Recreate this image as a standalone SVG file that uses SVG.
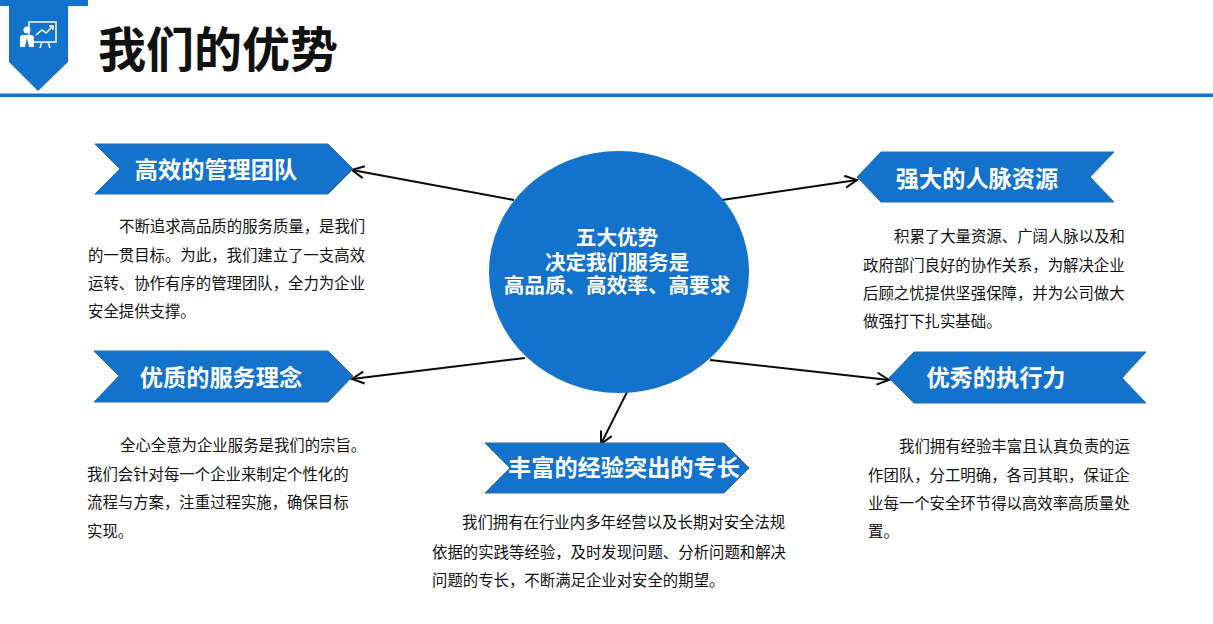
<svg xmlns="http://www.w3.org/2000/svg" width="1213" height="624" viewBox="0 0 1213 624">
<style>
text{font-family:"Noto Sans CJK SC",sans-serif}
.b{fill:#1272cc;stroke:#2a6aa8;stroke-width:1}
.h{fill:#fff;font-size:23.2px;font-weight:700;text-anchor:middle}
.c{fill:#fff;font-size:20.6px;font-weight:700;text-anchor:middle}
.p{fill:#111;font-size:15.4px}
.l{fill:none;stroke:#0a0a0a;stroke-width:2;marker-end:url(#a)}
</style>
<defs><marker id="a" markerUnits="userSpaceOnUse" markerWidth="16" markerHeight="16" refX="13" refY="7" orient="auto"><path d="M1 1L13 7L1 13" fill="none" stroke="#0a0a0a" stroke-width="2"/></marker></defs>
<rect width="1213" height="624" fill="#fff"/>
<g id="header">
<rect x="0" y="0" width="88" height="6" fill="#1272cc"/>
<path d="M9 6H68V62L38 91L9 62Z" fill="#1272cc"/>
<g fill="none" stroke="#fff" stroke-width="1.5"><rect x="29" y="22" width="27" height="20"/><path d="M36 35l6-5 4 3 7-7M49 26h4v4" /><path d="M42 42l-2 6M48 42l2 6"/></g>
<g fill="#fff"><circle cx="27" cy="30" r="3.5"/><path d="M20 47V38q0-3 3-3h8q3 0 3 3v9h-5l-2-9-2 9Z"/></g>
<text x="98" y="67" font-size="48" font-weight="700" fill="#111">我们的优势</text>
<rect x="0" y="93.5" width="1213" height="3.5" fill="#1272cc"/>
</g>
<g id="connectors">
<path class="l" d="M514 200L352 170"/>
<path class="l" d="M722 200L857 180"/>
<path class="l" d="M525 358L352 379"/>
<path class="l" d="M710 360L889 380"/>
<path class="l" d="M627 392L601 444"/>
</g>
<g id="center"><ellipse cx="619" cy="272" rx="130" ry="121" fill="#1272cc"/>
<text class="c"><tspan x="617" y="245">五大优势</tspan><tspan x="617" y="270">决定我们服务是</tspan><tspan x="617" y="293">高品质、高效率、高要求</tspan></text></g>
<g id="n1"><path class="b" d="M95 144H328L353 169L328 194H95L120 169Z"/><text class="h" x="216" y="178">高效的管理团队</text>
<text class="p" x="119" y="232">不断追求高品质的服务质量，是我们</text><text class="p" x="88" y="261">的一贯目标。为此，我们建立了一支高效</text><text class="p" x="88" y="289">运转、协作有序的管理团队，全力为企业</text><text class="p" x="88" y="317">安全提供支撑。</text></g>
<g id="n2"><path class="b" d="M881 152H1114L1090 177L1114 202H881L857 177Z"/><text class="h" x="977" y="187">强大的人脉资源</text>
<text class="p" x="894" y="242">积累了大量资源、广阔人脉以及和</text><text class="p" x="863" y="271">政府部门良好的协作关系，为解决企业</text><text class="p" x="863" y="299">后顾之忧提供坚强保障，并为公司做大</text><text class="p" x="863" y="327">做强打下扎实基础。</text></g>
<g id="n3"><path class="b" d="M94 351H328L353 376L328 402H94L119 376Z"/><text class="h" x="221" y="386">优质的服务理念</text>
<text class="p" x="120" y="451">全心全意为企业服务是我们的宗旨。</text><text class="p" x="87" y="480">我们会针对每一个企业来制定个性化的</text><text class="p" x="87" y="508">流程与方案，注重过程实施，确保目标</text><text class="p" x="87" y="537">实现。</text></g>
<g id="n4"><path class="b" d="M914 352H1146L1122 378L1146 403H914L889 378Z"/><text class="h" x="996" y="386">优秀的执行力</text>
<text class="p" x="899" y="452">我们拥有经验丰富且认真负责的运</text><text class="p" x="868" y="481">作团队，分工明确，各司其职，保证企</text><text class="p" x="868" y="509">业每一个安全环节得以高效率高质量处</text><text class="p" x="868" y="537">置。</text></g>
<g id="n5"><path class="b" d="M485 443H724L749 468L724 493H485L510 468Z"/><text class="h" x="624" y="476">丰富的经验突出的专长</text>
<text class="p" x="462" y="528">我们拥有在行业内多年经营以及长期对安全法规</text><text class="p" x="432" y="558">依据的实践等经验，及时发现问题、分析问题和解决</text><text class="p" x="432" y="586">问题的专长，不断满足企业对安全的期望。</text></g>
</svg>
